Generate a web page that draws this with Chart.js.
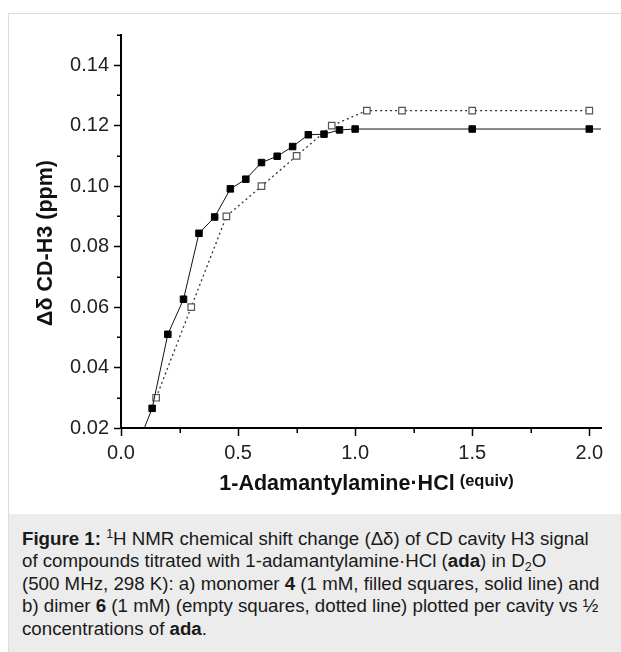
<!DOCTYPE html>
<html>
<head>
<meta charset="utf-8">
<script src="https://cdn.jsdelivr.net/npm/chart.js@4.4.1/dist/chart.umd.min.js"></script>
<style>
  html, body { margin: 0; padding: 0; background: #ffffff; width: 621px; height: 652px; overflow: hidden; }
  #frame { position: absolute; left: 8px; top: 13px; width: 660px; height: 700px; border: 1px solid #dcdcdc; box-sizing: border-box; }
  #wrap { position: absolute; left: 0; top: 0; width: 621px; height: 513px; }
  #caption {
    position: absolute; left: 9px; top: 514px; width: 612px; height: 138px;
    background: #ececec; box-sizing: border-box; padding: 14px 0 0 13px;
    font-family: "Liberation Sans", Arial, Helvetica, sans-serif; font-size: 18.7px; line-height: 22.4px;
    color: #1a1a1a; white-space: nowrap;
  }
  #caption sup, #caption sub { font-size: 12.5px; line-height: 0; }
  #caption sup { vertical-align: 7px; }
  #caption sub { vertical-align: -4px; }
</style>
</head>
<body>
<div id="frame"></div>
<div id="wrap"><canvas id="c" width="621" height="513"></canvas></div>
<div id="caption"><b>Figure 1:</b> <sup>1</sup>H NMR chemical shift change (Δδ) of CD cavity H3 signal<br>of compounds titrated with 1-adamantylamine·HCl (<b>ada</b>) in D<sub>2</sub>O<br>(500 MHz, 298 K): a) monomer <b>4</b> (1 mM, filled squares, solid line) and<br>b) dimer <b>6</b> (1 mM) (empty squares, dotted line) plotted per cavity vs ½<br>concentrations of <b>ada</b>.</div>
<script>
// ---- data ----
const monomerX = [0.067, 0.133, 0.2, 0.267, 0.333, 0.4, 0.467, 0.533, 0.6, 0.667, 0.733, 0.8, 0.867, 0.933, 1.0, 1.5, 2.0, 2.5];
const monomerY = [0.0136, 0.0265, 0.051, 0.0626, 0.0844, 0.0898, 0.0991, 0.1023, 0.1078, 0.1099, 0.1131, 0.1170, 0.1172, 0.1186, 0.1189, 0.1189, 0.1189, 0.1189];
const dimerX = [0.15, 0.3, 0.45, 0.6, 0.75, 0.9, 1.05, 1.2, 1.5, 2.0];
const dimerY = [0.03, 0.06, 0.09, 0.10, 0.11, 0.12, 0.125, 0.125, 0.125, 0.125];

// ---- ticks ----
const xMajorTicks = [0, 0.5, 1.0, 1.5, 2.0];
const xMinorTicks = [0.25, 0.75, 1.25, 1.75];
const yMajorTicks = [0.02, 0.04, 0.06, 0.08, 0.10, 0.12, 0.14];
const yMinorTicks = [0.03, 0.05, 0.07, 0.09, 0.11, 0.13, 0.15];

// ---- text ----
const xTitleMain = '1-Adamantylamine·HCl';
const xTitleUnit = '(equiv)';
const yTitle = 'Δδ CD-H3 (ppm)';

const FONT = '"Liberation Sans", Arial, Helvetica, sans-serif';

function toPoints(xs, ys) { return xs.map((x, i) => ({ x: x, y: ys[i] })); }
function isIn(list, v) { return list.some(t => Math.abs(t - v) < 1e-6); }

const minorTickPlugin = {
  id: 'minorTicks',
  afterDraw(chart) {
    const ctx = chart.ctx;
    const xs = chart.scales.x, ys = chart.scales.y;
    const area = chart.chartArea;
    ctx.save();
    ctx.strokeStyle = '#000';
    ctx.lineWidth = 1.5;
    ctx.beginPath();
    xMinorTicks.forEach(v => {
      const px = Math.round(xs.getPixelForValue(v)) + 0.25;
      ctx.moveTo(px, area.bottom);
      ctx.lineTo(px, area.bottom + 5);
    });
    yMinorTicks.forEach(v => {
      const py = Math.round(ys.getPixelForValue(v)) + 0.25;
      ctx.moveTo(area.left, py);
      ctx.lineTo(area.left - 4, py);
    });
    ctx.stroke();
    ctx.restore();
  }
};

const axisTitlePlugin = {
  id: 'axisTitles',
  afterDraw(chart) {
    const ctx = chart.ctx;
    ctx.save();
    ctx.fillStyle = '#111';
    // x title (main + smaller unit)
    const fMain = 'bold 21.5px ' + FONT;
    const fUnit = 'bold 16.5px ' + FONT;
    ctx.font = fMain;
    const wMain = ctx.measureText(xTitleMain).width;
    ctx.font = fUnit;
    const wUnit = ctx.measureText(xTitleUnit).width;
    const gap = 5;
    const total = wMain + gap + wUnit;
    const cx = 366.5;
    const x0 = cx - total / 2;
    ctx.textBaseline = 'alphabetic';
    ctx.textAlign = 'left';
    ctx.font = fMain;
    ctx.fillText(xTitleMain, x0, 490);
    ctx.font = fUnit;
    ctx.fillText(xTitleUnit, x0 + wMain + gap, 486);
    // y title (rotated)
    ctx.translate(51.5, 243);
    ctx.rotate(-Math.PI / 2);
    ctx.font = 'bold 21.5px ' + FONT;
    ctx.textAlign = 'center';
    ctx.fillText(yTitle, 0, 0);
    ctx.restore();
  }
};

new Chart(document.getElementById('c'), {
  type: 'scatter',
  data: {
    datasets: [
      {
        label: 'monomer 4',
        data: toPoints(monomerX, monomerY),
        showLine: true,
        borderColor: '#111',
        borderWidth: 1,
        tension: 0,
        pointStyle: 'rect',
        pointRadius: 4.6,
        pointHoverRadius: 4.6,
        pointBackgroundColor: '#000',
        pointBorderColor: '#000',
        pointBorderWidth: 1
      },
      {
        label: 'dimer 6',
        data: toPoints(dimerX, dimerY),
        showLine: true,
        borderColor: '#333',
        borderWidth: 1.3,
        borderDash: [2, 3],
        tension: 0,
        pointStyle: 'rect',
        pointRadius: 4.6,
        pointHoverRadius: 4.6,
        pointBackgroundColor: '#fff',
        pointBorderColor: '#555',
        pointBorderWidth: 1.2
      }
    ]
  },
  options: {
    responsive: false,
    animation: false,
    devicePixelRatio: 1,
    layout: { padding: { top: 35, right: 20, left: 0, bottom: 0 } },
    plugins: { legend: { display: false }, tooltip: { enabled: false } },
    scales: {
      x: {
        type: 'linear',
        position: 'bottom',
        min: 0,
        max: 2.05,
        afterFit(scale) { scale.height = 85; },
        afterBuildTicks(scale) { scale.ticks = xMajorTicks.map(v => ({ value: v })); },
        ticks: {
          autoSkip: false,
          maxRotation: 0,
          includeBounds: false,
          padding: 5,
          color: '#222',
          font: { family: FONT, size: 20 },
          callback: (v) => Number(v).toFixed(1)
        },
        grid: {
          drawOnChartArea: false,
          drawTicks: true,
          tickLength: 8,
          tickWidth: 1.5,
          tickColor: '#000'
        },
        border: { display: true, color: '#000', width: 2 },
        title: { display: false }
      },
      y: {
        type: 'linear',
        min: 0.02,
        max: 0.15,
        afterFit(scale) { scale.width = 121; },
        afterBuildTicks(scale) { scale.ticks = yMajorTicks.map(v => ({ value: v })); },
        ticks: {
          autoSkip: false,
          includeBounds: false,
          padding: 5,
          color: '#222',
          font: { family: FONT, size: 20 },
          callback: (v) => Number(v).toFixed(2)
        },
        grid: {
          drawOnChartArea: false,
          drawTicks: true,
          tickLength: 7,
          tickWidth: 1.5,
          tickColor: '#000'
        },
        border: { display: true, color: '#000', width: 2 },
        title: { display: false }
      }
    }
  },
  plugins: [minorTickPlugin, axisTitlePlugin]
});
</script>
</body>
</html>
